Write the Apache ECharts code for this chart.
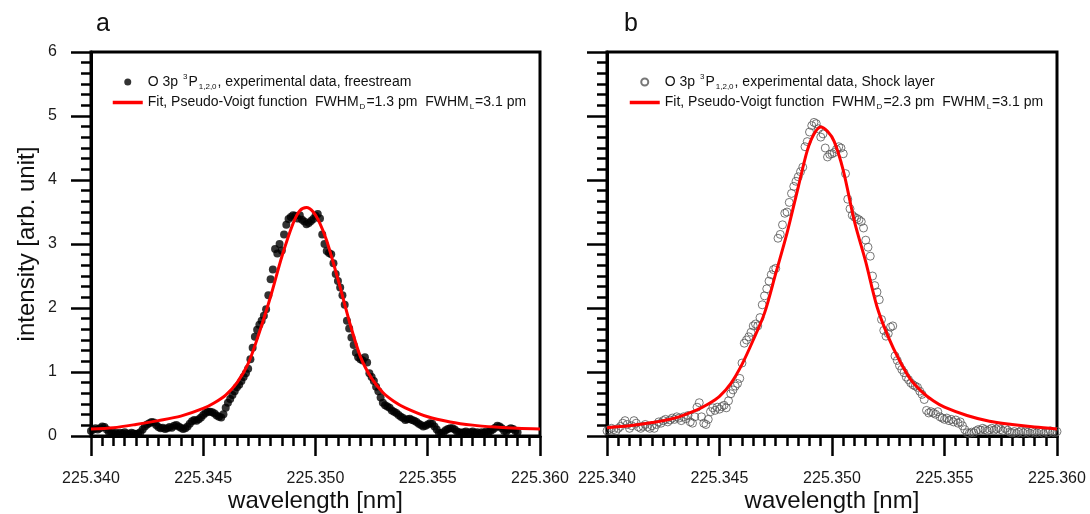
<!DOCTYPE html>
<html>
<head>
<meta charset="utf-8">
<script src="https://cdn.jsdelivr.net/npm/echarts@6/dist/echarts.min.js"></script>
<style>
  html, body { margin: 0; padding: 0; background: #fff; }
  #chart { width: 1090px; height: 514px; }
</style>
</head>
<body>
<div id="chart"></div>
<script>
// wavelength grid of the measured spectra
const xStart = 225.340;
const xStep = 0.0001;

// panel a: freestream, filled dots
const expA = [
  0.08, 0.10, 0.12, 0.10, 0.12, 0.15, 0.14, 0.10, 0.06, 0.05,
  0.04, 0.05, 0.03, 0.05, 0.04, 0.06, 0.04, 0.03, 0.05, 0.04,
  0.03, 0.04, 0.06, 0.10, 0.15, 0.18, 0.20, 0.22, 0.21, 0.17,
  0.14, 0.12, 0.13, 0.11, 0.12, 0.14, 0.13, 0.16, 0.17, 0.15,
  0.13, 0.11, 0.12, 0.15, 0.19, 0.23, 0.25, 0.24, 0.26, 0.29,
  0.33, 0.36, 0.38, 0.38, 0.37, 0.35, 0.32, 0.30, 0.29, 0.34,
  0.44, 0.52, 0.58, 0.64, 0.70, 0.76, 0.80, 0.86, 0.92, 0.98,
  1.05, 1.20, 1.38, 1.55, 1.66, 1.74, 1.80, 1.88, 1.98, 2.20,
  2.45, 2.60, 2.92, 2.85, 3.00, 2.90, 3.15, 3.30, 3.39, 3.42,
  3.45, 3.44, 3.40, 3.45, 3.38, 3.35, 3.31, 3.33, 3.36, 3.39,
  3.44, 3.47, 3.40, 3.15, 3.00, 2.89, 2.86, 2.84, 2.70, 2.53,
  2.42, 2.32, 2.20, 2.05, 1.80, 1.68, 1.54, 1.42, 1.30, 1.23,
  1.20, 1.18, 1.23, 1.15, 0.98, 0.92, 0.86, 0.77, 0.70, 0.60,
  0.52, 0.48, 0.46, 0.44, 0.40, 0.38, 0.36, 0.33, 0.30, 0.28,
  0.25, 0.26, 0.27, 0.25, 0.24, 0.22, 0.19, 0.17, 0.15, 0.16,
  0.18, 0.20, 0.19, 0.15, 0.10, 0.05, 0.04, 0.06, 0.09, 0.11,
  0.12, 0.12, 0.10, 0.07, 0.06, 0.05, 0.06, 0.07, 0.05, 0.06,
  0.07, 0.05, 0.06, 0.04, 0.06, 0.05, 0.07, 0.06, 0.08, 0.10,
  0.13, 0.16, 0.15, 0.12, 0.08, 0.07, 0.10, 0.12, 0.11, 0.08,
  0.06
];

// panel b: shock layer, open circles
const expB = [
  0.08, 0.10, 0.12, 0.10, 0.08, 0.12, 0.15, 0.20, 0.24, 0.18,
  0.12, 0.16, 0.24, 0.20, 0.14, 0.12, 0.15, 0.18, 0.14, 0.12,
  0.16, 0.12, 0.18, 0.22, 0.20, 0.24, 0.26, 0.22, 0.25, 0.28,
  0.26, 0.30, 0.28, 0.24, 0.30, 0.27, 0.32, 0.22, 0.20, 0.30,
  0.45, 0.52, 0.30, 0.20, 0.18, 0.26, 0.38, 0.44, 0.40, 0.45,
  0.42, 0.46, 0.48, 0.44, 0.55, 0.66, 0.72, 0.78, 0.82, 0.90,
  1.14, 1.45, 1.50, 1.55, 1.62, 1.72, 1.75, 1.72, 1.85, 2.05,
  2.19, 2.30, 2.42, 2.52, 2.60, 2.62, 3.09, 3.15, 3.30, 3.48,
  3.50, 3.65, 3.79, 3.90, 3.98, 4.05, 4.13, 4.20, 4.52, 4.60,
  4.75, 4.85, 4.90, 4.88, 4.80, 4.67, 4.72, 4.50, 4.36, 4.40,
  4.41, 4.43, 4.48, 4.52, 4.50, 4.41, 4.10, 3.70, 3.55, 3.45,
  3.42, 3.40, 3.38, 3.35, 3.25, 3.06, 2.95, 2.81, 2.50, 2.35,
  2.25, 2.13, 1.82, 1.65, 1.56, 1.60, 1.70, 1.72, 1.25, 1.18,
  1.10, 1.04, 0.99, 0.92, 0.88, 0.83, 0.80, 0.78, 0.76, 0.70,
  0.65, 0.57, 0.40, 0.36, 0.38, 0.36, 0.34, 0.38, 0.30, 0.28,
  0.26, 0.28, 0.24, 0.26, 0.22, 0.25, 0.20, 0.22, 0.16, 0.10,
  0.05, 0.04, 0.06, 0.05, 0.08, 0.10, 0.09, 0.12, 0.10, 0.08,
  0.10, 0.12, 0.09, 0.11, 0.13, 0.10, 0.08, 0.12, 0.09, 0.06,
  0.05, 0.07, 0.04, 0.06, 0.08, 0.05, 0.07, 0.06, 0.04, 0.08,
  0.06, 0.05, 0.08, 0.06, 0.04, 0.07, 0.05, 0.08, 0.06, 0.05,
  0.07
];

// pseudo-Voigt fit curves
const fitA = [
  [225.3400, 0.11], [225.3410, 0.13], [225.3420, 0.18], [225.3430, 0.24],
  [225.3440, 0.31], [225.3450, 0.43], [225.3455, 0.52], [225.3460, 0.64],
  [225.3465, 0.83], [225.3470, 1.13], [225.3475, 1.62], [225.3480, 2.18],
  [225.3485, 2.80], [225.3490, 3.32], [225.3493, 3.52], [225.3496, 3.57],
  [225.3499, 3.50], [225.3502, 3.32], [225.3505, 3.05], [225.3510, 2.45],
  [225.3515, 1.80], [225.3520, 1.24], [225.3525, 0.90], [225.3530, 0.68],
  [225.3535, 0.54], [225.3540, 0.44], [225.3550, 0.30], [225.3560, 0.22],
  [225.3570, 0.17], [225.3580, 0.14], [225.3590, 0.12], [225.3600, 0.11]
];
const fitB = [
  [225.3400, 0.13], [225.3410, 0.16], [225.3420, 0.21], [225.3430, 0.28],
  [225.3440, 0.41], [225.3445, 0.50], [225.3450, 0.62], [225.3455, 0.82],
  [225.3460, 1.12], [225.3465, 1.50], [225.3470, 1.92], [225.3475, 2.54],
  [225.3480, 3.17], [225.3485, 3.89], [225.3489, 4.46], [225.3492, 4.72],
  [225.3495, 4.83], [225.3498, 4.76], [225.3501, 4.60], [225.3505, 4.15],
  [225.3510, 3.35], [225.3515, 2.72], [225.3520, 2.02], [225.3525, 1.55],
  [225.3530, 1.18], [225.3535, 0.88], [225.3540, 0.69], [225.3545, 0.55],
  [225.3550, 0.45], [225.3560, 0.32], [225.3570, 0.23], [225.3580, 0.18],
  [225.3590, 0.14], [225.3600, 0.11]
];

const xTicks = [225.340, 225.345, 225.350, 225.355, 225.360];
const yTicks = [0, 1, 2, 3, 4, 5, 6];

const nameExpA = 'O 3p 3P1,2,0, experimental data, freestream';
const nameFitA = 'Fit, Pseudo-Voigt function  FWHM_D=1.3 pm  FWHM_L=3.1 pm';
const nameExpB = 'O 3p 3P1,2,0, experimental data, Shock layer';
const nameFitB = 'Fit, Pseudo-Voigt function  FWHM_D=2.3 pm  FWHM_L=3.1 pm';

const legendRich = {};
legendRich[nameExpA] = '{n|O 3p }{sup|3}{n|P}{sub|1,2,0}{n|, experimental data, freestream}';
legendRich[nameFitA] = '{n|Fit, Pseudo-Voigt function  FWHM}{sub|D}{n|=1.3 pm  FWHM}{sub|L}{n|=3.1 pm}';
legendRich[nameExpB] = '{n|O 3p }{sup|3}{n|P}{sub|1,2,0}{n|, experimental data, Shock layer}';
legendRich[nameFitB] = '{n|Fit, Pseudo-Voigt function  FWHM}{sub|D}{n|=2.3 pm  FWHM}{sub|L}{n|=3.1 pm}';

const FONT = 'Liberation Sans, Arial, sans-serif';
const INK = '#111';

function toPairs(ys) {
  return ys.map(function (y, i) { return [xStart + i * xStep, y]; });
}

function xAxisCfg(idx) {
  return {
    type: 'value', gridIndex: idx,
    min: xTicks[0], max: xTicks[xTicks.length - 1], interval: 0.005,
    name: 'wavelength [nm]', nameLocation: 'middle', nameGap: 53,
    nameMoveOverlap: false,
    nameTextStyle: { fontSize: 24, color: INK, fontFamily: FONT },
    axisLine: { lineStyle: { color: '#000', width: 3 } },
    axisTick: { inside: false, length: 20, lineStyle: { color: '#000', width: 2.5 } },
    minorTick: { show: true, splitNumber: 10, length: 10, lineStyle: { color: '#000', width: 2.5 } },
    splitLine: { show: false },
    axisLabel: {
      margin: 35, fontSize: 16, color: '#1a1a1a', fontFamily: FONT,
      showMinLabel: true, showMaxLabel: true,
      formatter: function (v) { return v.toFixed(3); }
    }
  };
}

function yAxisCfg(idx, withLabels) {
  return {
    type: 'value', gridIndex: idx,
    min: yTicks[0], max: yTicks[yTicks.length - 1], interval: 1,
    name: withLabels ? 'intensity [arb. unit]' : '',
    nameLocation: 'middle', nameGap: 52,
    nameMoveOverlap: false,
    nameTextStyle: { fontSize: 24, color: INK, fontFamily: FONT },
    axisLine: { lineStyle: { color: '#000', width: 3 } },
    axisTick: { inside: false, length: 20, lineStyle: { color: '#000', width: 2.5 } },
    minorTick: { show: true, splitNumber: 6, length: 10, lineStyle: { color: '#000', width: 2.5 } },
    splitLine: { show: false },
    axisLabel: { show: withLabels, margin: 34, fontSize: 16, color: '#1a1a1a', fontFamily: FONT }
  };
}

function legendCfg(left, expName, fitName) {
  return {
    orient: 'vertical', left: left, top: 68,
    itemWidth: 30, itemHeight: 7, itemGap: 5,
    lineStyle: { width: 3.5 },
    data: [expName, fitName],
    formatter: function (n) { return legendRich[n]; },
    textStyle: {
      fontFamily: FONT, fontSize: 14, color: INK,
      rich: {
        n: { fontSize: 14, fontFamily: FONT, color: INK },
        sup: { fontSize: 8, fontFamily: FONT, color: INK, padding: [0, 1, 10, 1] },
        sub: { fontSize: 8, fontFamily: FONT, color: INK, padding: [9, 1, 0, 1] }
      }
    }
  };
}

function fitSeries(name, idx, data) {
  // transparent item colour hides the marker in the legend icon
  return {
    name: name, type: 'line', xAxisIndex: idx, yAxisIndex: idx,
    symbol: 'none', smooth: 0.3, z: 5,
    lineStyle: { color: '#ff0000', width: 3 },
    itemStyle: { color: 'rgba(255,0,0,0)' },
    data: data
  };
}

const chart = echarts.init(document.getElementById('chart'), null, { renderer: 'canvas' });

chart.setOption({
  backgroundColor: '#fff',
  animation: false,
  title: [
    { text: 'a', left: 91, top: 7, textStyle: { fontSize: 25, fontWeight: 'normal', color: INK, fontFamily: FONT } },
    { text: 'b', left: 619, top: 7, textStyle: { fontSize: 25, fontWeight: 'normal', color: INK, fontFamily: FONT } }
  ],
  grid: [
    { left: 91, top: 52, width: 449, height: 384, outerBoundsMode: 'none', show: true, borderColor: '#000', borderWidth: 3 },
    { left: 607, top: 52, width: 450, height: 384, outerBoundsMode: 'none', show: true, borderColor: '#000', borderWidth: 3 }
  ],
  legend: [
    legendCfg(106, nameExpA, nameFitA),
    legendCfg(623, nameExpB, nameFitB)
  ],
  xAxis: [xAxisCfg(0), xAxisCfg(1)],
  yAxis: [yAxisCfg(0, true), yAxisCfg(1, false)],
  series: [
    {
      name: nameExpA, type: 'scatter', xAxisIndex: 0, yAxisIndex: 0,
      symbol: 'circle', symbolSize: 8,
      itemStyle: { color: '#000' },
      data: toPairs(expA)
    },
    fitSeries(nameFitA, 0, fitA),
    {
      name: nameExpB, type: 'scatter', xAxisIndex: 1, yAxisIndex: 1,
      symbol: 'circle', symbolSize: 8,
      itemStyle: { color: 'rgba(255,255,255,0)', borderColor: '#555', borderWidth: 1 },
      data: toPairs(expB)
    },
    fitSeries(nameFitB, 1, fitB)
  ]
});
</script>
</body>
</html>
